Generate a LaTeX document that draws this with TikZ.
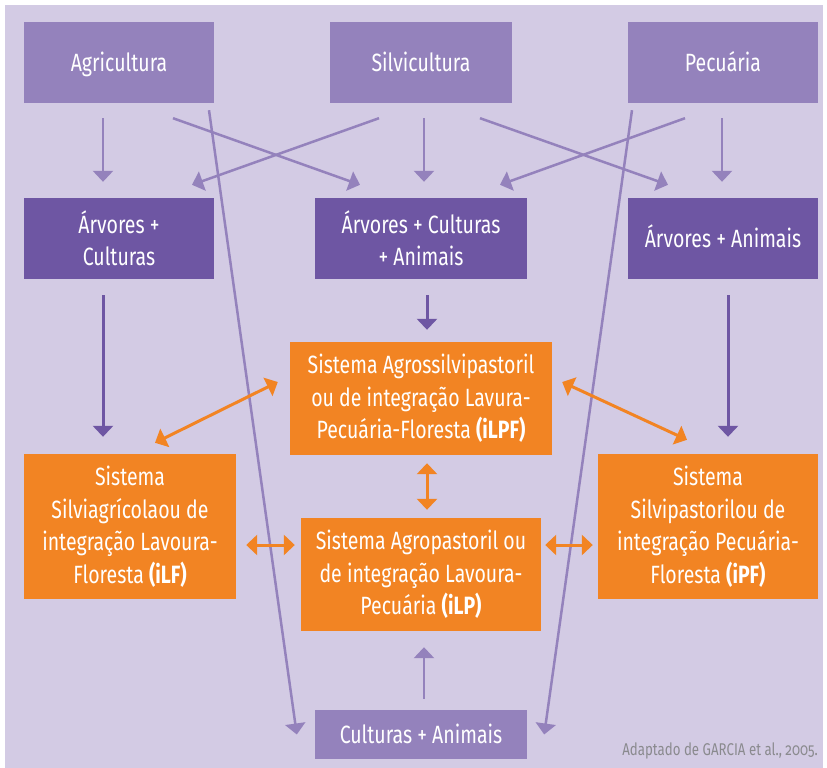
\documentclass[tikz,border=0pt]{standalone}
\usepackage{fontspec}
\setmainfont[FakeStretch=0.78]{Fira Sans}
\newfontfamily\notefont[FakeStretch=0.78,Numbers=OldStyle]{Fira Sans}
\usetikzlibrary{arrows.meta}
\definecolor{bg}{HTML}{D3CBE4}
\definecolor{lp}{HTML}{9482BC}
\definecolor{dp}{HTML}{6E56A3}
\definecolor{og}{HTML}{F28423}
\definecolor{notegray}{HTML}{8A8A8E}
\begin{document}
\begin{tikzpicture}[x=1pt,y=-1pt,
  box/.style={rectangle, inner sep=0pt, text=white, align=center, font=\fontsize{25}{32.5}\selectfont},
  oneline/.style={text height=18pt, text depth=0pt},
  topbox/.style={box, fill=lp, minimum height=81pt},
  midbox/.style={box, fill=dp, minimum height=81pt},
  sysbox/.style={box, fill=og},
  la/.style={draw=lp, line width=2.5pt, -{Triangle[width=20pt,length=11pt]}},
  da/.style={draw=dp, line width=3pt, -{Triangle[width=20pt,length=11pt]}},
  oa/.style={draw=og, line width=3pt, {Triangle[width=20pt,length=11pt]}-{Triangle[width=20pt,length=11pt]}},
]
\useasboundingbox (0,0) rectangle (827,768);
\fill[bg] (5,5) rectangle (823,768);

% top row
\node[topbox, oneline, minimum width=190pt] (agr) at (119,62.5) {Agricultura};
\node[topbox, oneline, minimum width=182pt] (sil) at (421,62.5) {Silvicultura};
\node[topbox, oneline, minimum width=190pt] (pec) at (723,62.5) {Pecuária};
% middle row
\node[midbox, minimum width=190pt] (ac) at (119,238.5) {Árvores +\\Culturas};
\node[midbox, minimum width=212pt] (aca) at (421,238.5) {Árvores + Culturas\\+ Animais};
\node[midbox, oneline, minimum width=190pt] (aa) at (723,238.5) {Árvores + Animais};
% systems
\node[sysbox, minimum width=262pt, minimum height=113pt] (ilpf) at (421,398.5)
  {Sistema Agrossilvipastoril\\ou de integração Lavura-\\Pecuária-Floresta \textbf{(iLPF)}};
\node[sysbox, minimum width=212pt, minimum height=145pt] (ilf) at (130,526.5)
  {Sistema\\Silviagrícolaou de\\integração Lavoura-\\Floresta \textbf{(iLF)}};
\node[sysbox, minimum width=220pt, minimum height=145pt] (ipf) at (708,526.5)
  {Sistema\\Silvipastorilou de\\integração Pecuária-\\Floresta \textbf{(iPF)}};
\node[sysbox, minimum width=240pt, minimum height=113pt] (ilp) at (421,574.5)
  {Sistema Agropastoril ou\\de integração Lavoura-\\Pecuária \textbf{(iLP)}};
% bottom
\node[topbox, oneline, minimum width=212pt, minimum height=49pt] (ca) at (421,734.5) {Culturas + Animais};
\node[anchor=base east, inner sep=0pt, text=notegray, font=\notefont\fontsize{17}{20}\selectfont] (note) at (818,755)
  {Adaptado de GARCIA et al., 2005.};

% light purple arrows
\draw[la] ([shift={(-16,15)}]agr.south) -- ([shift={(-16,-16)}]ac.north);
\draw[la] ([shift={(3,15)}]sil.south) -- ([shift={(3,-16)}]aca.north);
\draw[la] ([shift={(-1,15)}]pec.south) -- ([shift={(-1,-16)}]aa.north);
\draw[la] ([shift={(54,15)}]agr.south) -- ([shift={(-61,-13)}]aca.north);
\draw[la] ([shift={(-42,15)}]sil.south) -- ([shift={(73,-13)}]ac.north);
\draw[la] ([shift={(59,15)}]sil.south) -- ([shift={(-55,-13)}]aa.north);
\draw[la] ([shift={(-38,15)}]pec.south) -- ([shift={(79,-13)}]aca.north);
\draw[la] ([shift={(90,7)}]agr.south) -- ([shift={(-18,0)}]ca.west);
\draw[la] ([shift={(-91,7)}]pec.south) -- ([shift={(17,0)}]ca.east);
\draw[la] ([shift={(3,-11)}]ca.north) -- ([shift={(3,16)}]ilp.south);
% dark purple arrows
\draw[da] ([shift={(-16,16)}]ac.south) -- ([shift={(-27,-17)}]ilf.north);
\draw[da] ([shift={(6,16)}]aca.south) -- ([shift={(6,-12)}]ilpf.north);
\draw[da] ([shift={(5,16)}]aa.south) -- ([shift={(20,-17)}]ipf.north);
% orange double arrows
\draw[oa] ([shift={(25,-11)}]ilf.north) -- ([shift={(-12,-16.5)}]ilpf.west);
\draw[oa] ([shift={(10,-16.5)}]ilpf.east) -- ([shift={(-21,-14)}]ipf.north);
\draw[oa] ([shift={(6,8)}]ilpf.south) -- ([shift={(6,-8)}]ilp.north);
\draw[oa] ([shift={(10,18.5)}]ilf.east) -- ([shift={(-6,-29.5)}]ilp.west);
\draw[oa] ([shift={(4,-29.5)}]ilp.east) -- ([shift={(-5,18.5)}]ipf.west);
\end{tikzpicture}
\end{document}
